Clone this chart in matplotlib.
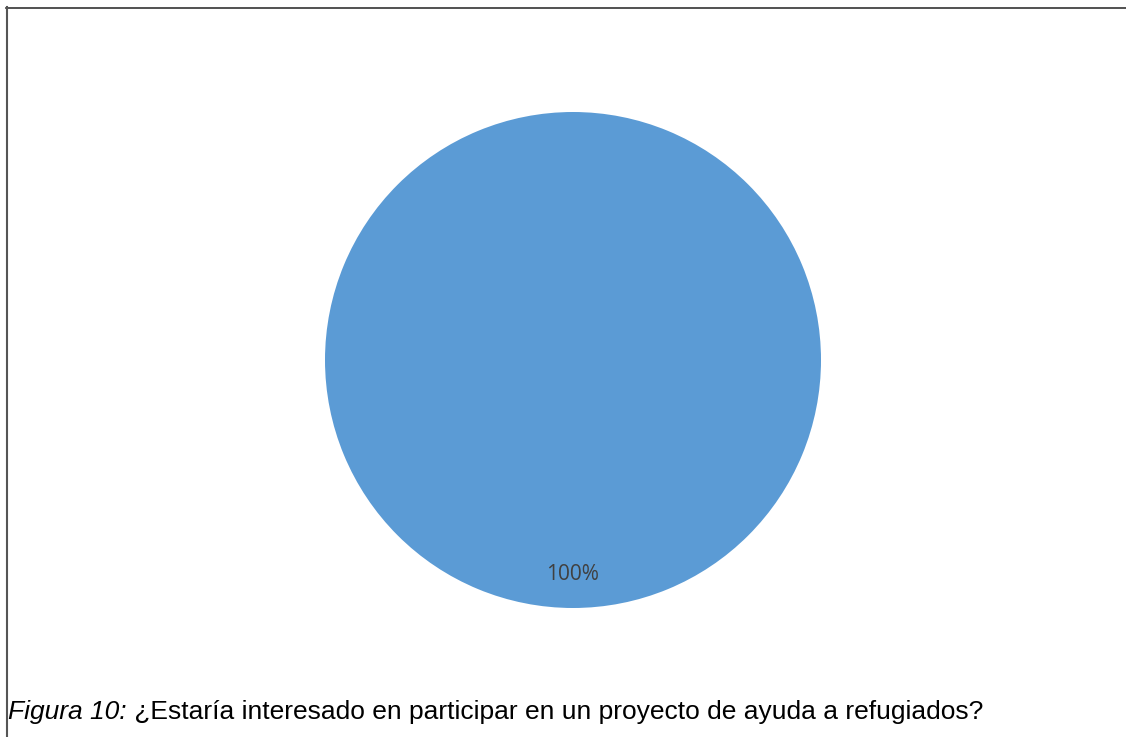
import matplotlib.pyplot as plt
from matplotlib.lines import Line2D

labels = ['Sí']
values = [100]
caption_prefix = 'Figura 10:'
caption_text = ' ¿Estaría interesado en participar en un proyecto de ayuda a refugiados?'

W, H = 1126, 737
fig = plt.figure(figsize=(W / 100, H / 100), dpi=100)
fig.patch.set_facecolor('white')

ax = fig.add_axes([0, 0, 1, 1])
ax.set_aspect('equal')
ax.axis('off')

wedges, texts, autotexts = ax.pie(
    values, labels=labels, center=(573, H - 360), radius=248, colors=['#5B9BD5'],
    autopct='%1.0f%%', pctdistance=0.865, startangle=90, counterclock=False,
    wedgeprops=dict(linewidth=0), textprops=dict(color='#404040', fontsize=15,
                                                 family=['Open Sans', 'DejaVu Sans']))
for t in texts:
    t.set_visible(False)
ax.set_xlim(0, W)
ax.set_ylim(0, H)

# frame: top and left rules only
fig.add_artist(Line2D([6 / W, 1], [1 - 7.5 / H, 1 - 7.5 / H], color='#333333', lw=1.2,
                      transform=fig.transFigure))
fig.add_artist(Line2D([6.5 / W, 6.5 / W], [0, 1 - 7 / H], color='#555555', lw=1.5,
                      transform=fig.transFigure))

cap = fig.text(8 / W, 1 - 719 / H, caption_prefix, fontsize=19, style='italic',
               family='Liberation Sans', color='black', va='baseline')
fig.canvas.draw()
bb = cap.get_window_extent()
fig.text(bb.x1 / W, 1 - 719 / H, caption_text, fontsize=19,
         family='Liberation Sans', color='black', va='baseline')

fig.savefig('out.png', dpi=100)
